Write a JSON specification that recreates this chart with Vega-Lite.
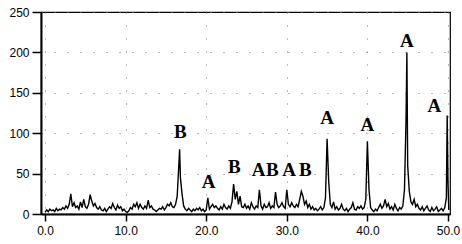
{
  "$schema": "https://vega.github.io/schema/vega-lite/v6.json",
  "autosize": "none",
  "width": 409,
  "height": 202,
  "padding": {"left": 41, "top": 12, "right": 12, "bottom": 30},
  "background": "white",
  "config": {
    "view": {"stroke": "black", "strokeWidth": 1.2},
    "axis": {
      "labelFont": "Liberation Sans",
      "labelFontSize": 12,
      "labelColor": "black",
      "domainColor": "black",
      "domainWidth": 2,
      "tickColor": "black",
      "tickWidth": 1.5,
      "gridColor": "#777777",
      "gridDash": [1, 12],
      "gridWidth": 1
    }
  },
  "datasets": {
    "pattern": [
      {"x":0.0,"y":2},{"x":0.2,"y":5},{"x":0.4,"y":3},{"x":0.6,"y":6},{"x":0.8,"y":4},{"x":1.0,"y":5},{"x":1.2,"y":3},{"x":1.4,"y":7},{"x":1.6,"y":4},{"x":1.8,"y":6},
      {"x":2.0,"y":5},{"x":2.2,"y":8},{"x":2.4,"y":6},{"x":2.6,"y":10},{"x":2.8,"y":7},{"x":3.0,"y":12},{"x":3.2,"y":25},{"x":3.4,"y":9},{"x":3.6,"y":14},{"x":3.8,"y":8},
      {"x":4.0,"y":10},{"x":4.2,"y":6},{"x":4.4,"y":15},{"x":4.6,"y":8},{"x":4.8,"y":18},{"x":5.0,"y":9},{"x":5.2,"y":7},{"x":5.4,"y":12},{"x":5.6,"y":24},{"x":5.8,"y":16},
      {"x":6.0,"y":10},{"x":6.2,"y":13},{"x":6.4,"y":8},{"x":6.6,"y":6},{"x":6.8,"y":9},{"x":7.0,"y":5},{"x":7.2,"y":4},{"x":7.4,"y":7},{"x":7.6,"y":3},{"x":7.8,"y":6},
      {"x":8.0,"y":9},{"x":8.2,"y":7},{"x":8.4,"y":13},{"x":8.6,"y":8},{"x":8.8,"y":5},{"x":9.0,"y":11},{"x":9.2,"y":7},{"x":9.4,"y":9},{"x":9.6,"y":4},{"x":9.8,"y":6},
      {"x":10.0,"y":3},{"x":10.2,"y":2},{"x":10.4,"y":4},{"x":10.6,"y":8},{"x":10.8,"y":6},{"x":11.0,"y":12},{"x":11.2,"y":9},{"x":11.4,"y":14},{"x":11.6,"y":7},{"x":11.8,"y":12},
      {"x":12.0,"y":8},{"x":12.2,"y":6},{"x":12.4,"y":10},{"x":12.6,"y":7},{"x":12.8,"y":17},{"x":13.0,"y":8},{"x":13.2,"y":10},{"x":13.4,"y":6},{"x":13.6,"y":5},{"x":13.8,"y":3},
      {"x":14.0,"y":5},{"x":14.2,"y":7},{"x":14.4,"y":6},{"x":14.6,"y":9},{"x":14.8,"y":5},{"x":15.0,"y":8},{"x":15.2,"y":12},{"x":15.4,"y":10},{"x":15.6,"y":14},{"x":15.8,"y":9},
      {"x":16.0,"y":8},{"x":16.2,"y":12},{"x":16.4,"y":22},{"x":16.6,"y":60},{"x":16.7,"y":80},{"x":16.8,"y":45},{"x":17.0,"y":25},{"x":17.2,"y":10},{"x":17.4,"y":6},{"x":17.6,"y":4},{"x":17.8,"y":7},
      {"x":18.0,"y":5},{"x":18.2,"y":3},{"x":18.4,"y":6},{"x":18.6,"y":4},{"x":18.8,"y":7},{"x":19.0,"y":5},{"x":19.2,"y":8},{"x":19.4,"y":4},{"x":19.6,"y":6},{"x":19.8,"y":3},
      {"x":20.0,"y":5},{"x":20.2,"y":20},{"x":20.4,"y":6},{"x":20.6,"y":9},{"x":20.8,"y":12},{"x":21.0,"y":8},{"x":21.2,"y":10},{"x":21.4,"y":7},{"x":21.6,"y":5},{"x":21.8,"y":9},
      {"x":22.0,"y":6},{"x":22.2,"y":12},{"x":22.4,"y":8},{"x":22.6,"y":6},{"x":22.8,"y":10},{"x":23.0,"y":7},{"x":23.2,"y":15},{"x":23.4,"y":37},{"x":23.6,"y":18},{"x":23.8,"y":28},
      {"x":24.0,"y":12},{"x":24.2,"y":22},{"x":24.4,"y":9},{"x":24.6,"y":8},{"x":24.8,"y":12},{"x":25.0,"y":7},{"x":25.2,"y":10},{"x":25.4,"y":6},{"x":25.6,"y":14},{"x":25.8,"y":9},
      {"x":26.0,"y":6},{"x":26.2,"y":10},{"x":26.4,"y":8},{"x":26.6,"y":30},{"x":26.8,"y":10},{"x":27.0,"y":6},{"x":27.2,"y":12},{"x":27.4,"y":8},{"x":27.6,"y":9},{"x":27.8,"y":14},
      {"x":28.0,"y":7},{"x":28.2,"y":10},{"x":28.4,"y":8},{"x":28.6,"y":27},{"x":28.8,"y":12},{"x":29.0,"y":8},{"x":29.2,"y":10},{"x":29.4,"y":14},{"x":29.6,"y":9},{"x":29.8,"y":7},
      {"x":30.0,"y":30},{"x":30.2,"y":12},{"x":30.4,"y":9},{"x":30.6,"y":14},{"x":30.8,"y":10},{"x":31.0,"y":8},{"x":31.2,"y":12},{"x":31.4,"y":9},{"x":31.6,"y":18},{"x":31.8,"y":28},
      {"x":32.0,"y":22},{"x":32.2,"y":12},{"x":32.4,"y":16},{"x":32.6,"y":8},{"x":32.8,"y":12},{"x":33.0,"y":6},{"x":33.2,"y":9},{"x":33.4,"y":5},{"x":33.6,"y":7},{"x":33.8,"y":4},
      {"x":34.0,"y":6},{"x":34.2,"y":9},{"x":34.4,"y":5},{"x":34.6,"y":8},{"x":34.8,"y":20},{"x":35.0,"y":93},{"x":35.2,"y":40},{"x":35.4,"y":12},{"x":35.6,"y":8},{"x":35.8,"y":15},
      {"x":36.0,"y":6},{"x":36.2,"y":9},{"x":36.4,"y":5},{"x":36.6,"y":7},{"x":36.8,"y":12},{"x":37.0,"y":6},{"x":37.2,"y":4},{"x":37.4,"y":7},{"x":37.6,"y":3},{"x":37.8,"y":6},
      {"x":38.0,"y":8},{"x":38.2,"y":14},{"x":38.4,"y":6},{"x":38.6,"y":5},{"x":38.8,"y":9},{"x":39.0,"y":7},{"x":39.2,"y":10},{"x":39.4,"y":6},{"x":39.6,"y":8},{"x":39.8,"y":18},
      {"x":40.0,"y":90},{"x":40.2,"y":30},{"x":40.4,"y":8},{"x":40.6,"y":5},{"x":40.8,"y":3},{"x":41.0,"y":6},{"x":41.2,"y":4},{"x":41.4,"y":8},{"x":41.6,"y":12},{"x":41.8,"y":7},
      {"x":42.0,"y":10},{"x":42.2,"y":18},{"x":42.4,"y":9},{"x":42.6,"y":13},{"x":42.8,"y":6},{"x":43.0,"y":9},{"x":43.2,"y":5},{"x":43.4,"y":12},{"x":43.6,"y":7},{"x":43.8,"y":4},
      {"x":44.0,"y":8},{"x":44.2,"y":6},{"x":44.4,"y":10},{"x":44.6,"y":30},{"x":44.8,"y":120},{"x":44.9,"y":200},{"x":45.0,"y":60},{"x":45.2,"y":28},{"x":45.4,"y":15},{"x":45.6,"y":12},{"x":45.8,"y":18},
      {"x":46.0,"y":9},{"x":46.2,"y":12},{"x":46.4,"y":7},{"x":46.6,"y":5},{"x":46.8,"y":9},{"x":47.0,"y":4},{"x":47.2,"y":7},{"x":47.4,"y":10},{"x":47.6,"y":5},{"x":47.8,"y":3},
      {"x":48.0,"y":8},{"x":48.2,"y":4},{"x":48.4,"y":6},{"x":48.6,"y":9},{"x":48.8,"y":3},{"x":49.0,"y":5},{"x":49.2,"y":7},{"x":49.4,"y":4},{"x":49.6,"y":8},{"x":49.8,"y":20},
      {"x":49.9,"y":122},{"x":50.0,"y":40},{"x":50.1,"y":5}
    ],
    "labels": [
      {"x":16.8,"y":101,"label":"B"},
      {"x":20.3,"y":40,"label":"A"},
      {"x":23.5,"y":58,"label":"B"},
      {"x":26.5,"y":54,"label":"A"},
      {"x":28.2,"y":54,"label":"B"},
      {"x":30.3,"y":54,"label":"A"},
      {"x":32.3,"y":54,"label":"B"},
      {"x":35.0,"y":119,"label":"A"},
      {"x":40.0,"y":110,"label":"A"},
      {"x":44.9,"y":214,"label":"A"},
      {"x":48.3,"y":134,"label":"A"}
    ]
  },
  "layer": [
    {
      "data": {"name": "pattern"},
      "mark": {"type": "line", "color": "black", "strokeWidth": 1.4, "clip": true},
      "encoding": {
        "x": {
          "field": "x", "type": "quantitative",
          "scale": {"domain": [-0.5, 50.25], "nice": false, "zero": false},
          "axis": {"title": null, "values": [0, 10, 20, 30, 40, 50], "format": ".1f", "tickSize": 7, "labelPadding": 4, "grid": true}
        },
        "y": {
          "field": "y", "type": "quantitative",
          "scale": {"domain": [0, 250], "nice": false},
          "axis": {"title": null, "values": [0, 50, 100, 150, 200, 250], "tickSize": 9, "labelPadding": 3, "grid": true}
        }
      }
    },
    {
      "data": {"name": "labels"},
      "mark": {"type": "text", "font": "Liberation Serif", "fontWeight": "bold", "fontSize": 19, "color": "black", "baseline": "middle"},
      "encoding": {
        "x": {"field": "x", "type": "quantitative"},
        "y": {"field": "y", "type": "quantitative"},
        "text": {"field": "label"}
      }
    }
  ]
}
